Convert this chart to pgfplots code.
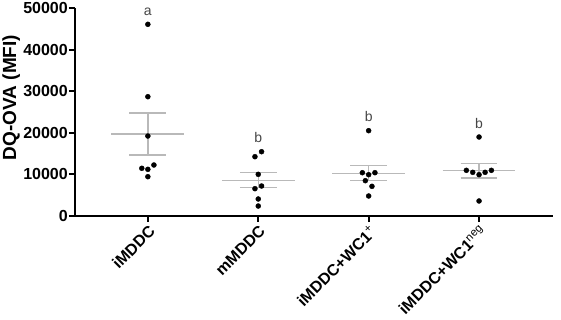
\documentclass[border=0pt]{standalone}
\usepackage{fontspec}
\setmainfont{Liberation Sans}
\usepackage{pgfplots}
\pgfplotsset{compat=1.18}
\definecolor{semgray}{RGB}{185,185,185}
\definecolor{lettergray}{RGB}{70,70,70}
\begin{document}
\begin{tikzpicture}
\useasboundingbox (-75pt,-103pt) rectangle (486pt,216pt);
\begin{axis}[
  at={(0pt,0pt)}, anchor=south west,
  scale only axis, width=478pt, height=208pt,
  xmin=-0.66, xmax=3.67, ymin=0, ymax=50000,
  axis lines=left, axis line style={-, line width=2.2pt},
  ytick={0,10000,20000,30000,40000,50000},
  scaled y ticks=false,
  /pgf/number format/1000 sep={},
  /pgf/number format/assume math mode=true,
  xtick={0,1,2,3},
  xticklabels={iMDDC, mMDDC, {iMDDC+WC1\textsuperscript{\mdseries +}}, {iMDDC+WC1\textsuperscript{\mdseries neg}}},
  tick style={black, line width=2pt},
  major tick length=6pt,
  tick align=outside,
  yticklabel style={font=\fontsize{16}{19}\selectfont\bfseries, inner sep=1pt},
  xticklabel style={font=\fontsize{16}{19}\selectfont\bfseries, rotate=45, anchor=north east, inner sep=1.5pt},
  ylabel={DQ-OVA (MFI)},
  ylabel style={font=\fontsize{19}{22}\selectfont\bfseries, at={(ticklabel cs:0.57)}, anchor=near ticklabel, inner sep=2pt},
  clip=false,
  unbounded coords=jump,
]
% mean and SEM (gray)
\addplot[semgray, line width=1.5pt] coordinates {
  (-0.33,19710) (0.33,19710) (nan,nan)
  (-0.167,24760) (0.167,24760) (nan,nan)
  (-0.167,14660) (0.167,14660) (nan,nan)
  (0,14660) (0,24760) (nan,nan)
  (0.67,8490) (1.33,8490) (nan,nan)
  (0.833,10410) (1.167,10410) (nan,nan)
  (0.833,6810) (1.167,6810) (nan,nan)
  (1,6810) (1,10410) (nan,nan)
  (1.67,10260) (2.33,10260) (nan,nan)
  (1.833,12180) (2.167,12180) (nan,nan)
  (1.833,8490) (2.167,8490) (nan,nan)
  (2,8490) (2,12180) (nan,nan)
  (2.67,10900) (3.33,10900) (nan,nan)
  (2.833,12580) (3.167,12580) (nan,nan)
  (2.833,9130) (3.167,9130) (nan,nan)
  (3,9130) (3,12580)
};
% data points
\addplot[only marks, mark=*, mark size=2.5pt, black] coordinates {
  (0,46080) (0,28680) (0,19230) (-0.055,11470) (0,11220) (0.055,12260) (0,9450)
  (0.97,14260) (1.03,15460) (1,10020) (1.03,7210) (0.97,6570) (1,4090) (1,2400)
  (2,20510) (1.943,10410) (2,9930) (2.057,10410) (1.97,8490) (2.03,7130) (2,4810)
  (3,18990) (2.885,10980) (2.943,10500) (3,9930) (3.055,10500) (3.112,10980) (3,3610)
};
\node[lettergray, font=\fontsize{14}{16}\selectfont] at (axis cs:0,49100) {a};
\node[lettergray, font=\fontsize{14}{16}\selectfont] at (axis cs:1,18800) {b};
\node[lettergray, font=\fontsize{14}{16}\selectfont] at (axis cs:2,23900) {b};
\node[lettergray, font=\fontsize{14}{16}\selectfont] at (axis cs:3,22300) {b};
\end{axis}
\end{tikzpicture}
\end{document}
